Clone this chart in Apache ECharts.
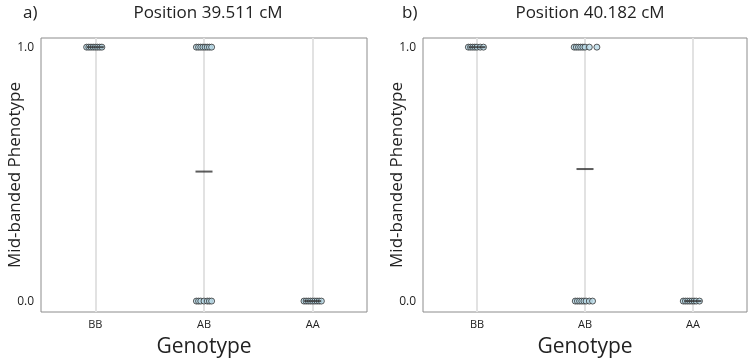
<!DOCTYPE html>
<html>
<head>
<meta charset="utf-8">
<script src="https://cdn.jsdelivr.net/npm/echarts@6/dist/echarts.min.js"></script>
<style>
  html, body { margin: 0; padding: 0; background: #fff; }
  #chart { width: 750px; height: 361px; }
</style>
</head>
<body>
<div id="chart"></div>
<script>
const genotypes = ['BB', 'AB', 'AA'];
const yTicks = [0, 1];
const panelTitles = ['Position 39.511 cM', 'Position 40.182 cM'];
const panelTags = ['a)', 'b)'];

// jittered points: [x position (genotype index + jitter), phenotype]
const pointsA = [
  [-0.08, 1], [-0.06, 1], [-0.04, 1], [-0.02, 1], [0.0, 1], [0.02, 1], [0.04, 1], [0.06, 1],
  [0.93, 1], [0.95, 1], [0.97, 1], [0.99, 1], [1.01, 1], [1.03, 1], [1.05, 1], [1.07, 1],
  [0.93, 0], [0.95, 0], [0.97, 0], [1.0, 0], [1.03, 0], [1.05, 0], [1.07, 0],
  [1.92, 0], [1.94, 0], [1.96, 0], [1.98, 0], [2.0, 0], [2.02, 0], [2.04, 0], [2.06, 0], [2.08, 0]
];
const pointsB = [
  [-0.08, 1], [-0.06, 1], [-0.04, 1], [-0.02, 1], [0.0, 1], [0.03, 1], [0.06, 1],
  [0.9, 1], [0.92, 1], [0.94, 1], [0.96, 1], [0.98, 1], [1.0, 1], [1.04, 1], [1.11, 1],
  [0.91, 0], [0.93, 0], [0.95, 0], [0.97, 0], [0.99, 0], [1.01, 0], [1.04, 0], [1.07, 0],
  [1.91, 0], [1.93, 0], [1.95, 0], [1.97, 0], [1.99, 0], [2.01, 0], [2.03, 0], [2.06, 0]
];
// group means per genotype
const meansA = [1, 0.51, 0];
const meansB = [1, 0.52, 0];

const grids = [
  { left: 41, right: 383, top: 38, bottom: 49 },
  { left: 423, right: 3, top: 38, bottom: 49 }
];
const textColor = '#222';

const xAxis = [], yAxis = [], series = [], title = [];
[pointsA, pointsB].forEach((pts, i) => {
  const means = i === 0 ? meansA : meansB;
  // category axis for labels
  xAxis.push({
    type: 'category', gridIndex: i, data: genotypes,
    name: 'Genotype', nameLocation: 'middle', nameGap: 25, nameMoveOverlap: false,
    nameTextStyle: { fontSize: 21, color: textColor },
    axisLine: { show: false }, axisTick: { show: false },
    axisLabel: { fontSize: 11, color: textColor, margin: 7 },
    splitLine: { show: false }
  });
  // hidden value axis for jittered points
  xAxis.push({
    type: 'value', gridIndex: i, min: -0.5, max: 2.5, show: false,
    splitLine: { show: false }
  });
  yAxis.push({
    type: 'value', gridIndex: i, min: -0.043, max: 1.036,
    name: 'Mid-banded Phenotype', nameLocation: 'middle', nameGap: 17, nameMoveOverlap: false,
    nameTextStyle: { fontSize: 17, color: textColor },
    axisLine: { show: false }, axisTick: { show: false },
    axisLabel: { customValues: yTicks, formatter: v => v.toFixed(1), fontSize: 12, color: textColor, margin: 7 },
    splitLine: { show: false }
  });
  series.push({
    type: 'scatter', xAxisIndex: i * 2 + 1, yAxisIndex: i,
    data: pts, symbolSize: 6, z: 3,
    itemStyle: { color: '#b9dbe8', borderColor: '#333', borderWidth: 1 },
    markLine: {
      silent: true, symbol: 'none', label: { show: false }, z: 1,
      lineStyle: { color: '#e2e2e2', width: 2, type: 'solid' },
      data: genotypes.map((g, k) => ({ xAxis: k }))
    }
  });
  series.push({
    type: 'scatter', xAxisIndex: i * 2 + 1, yAxisIndex: i,
    data: means.map((m, k) => [k, m]), symbol: 'rect', symbolSize: [17, 2], z: 4,
    itemStyle: { color: '#333' }
  });
  const cx = i === 0 ? 203 : 585;
  title.push({
    text: panelTitles[i], left: cx, top: 0, textAlign: 'center',
    textStyle: { fontSize: 17, fontWeight: 'normal', color: textColor }
  });
  title.push({
    text: panelTags[i], left: i === 0 ? 18 : 397, top: 0,
    textStyle: { fontSize: 17, fontWeight: 'normal', color: textColor }
  });
});

const chart = echarts.init(document.getElementById('chart'));
chart.setOption({
  animation: false,
  backgroundColor: '#fff',
  textStyle: { fontFamily: 'Open Sans' },
  title,
  grid: grids.map(g => ({ ...g, show: true, borderColor: '#8c8c8c', borderWidth: 1, backgroundColor: 'transparent', outerBoundsMode: 'none' })),
  xAxis, yAxis, series
});
</script>
</body>
</html>
